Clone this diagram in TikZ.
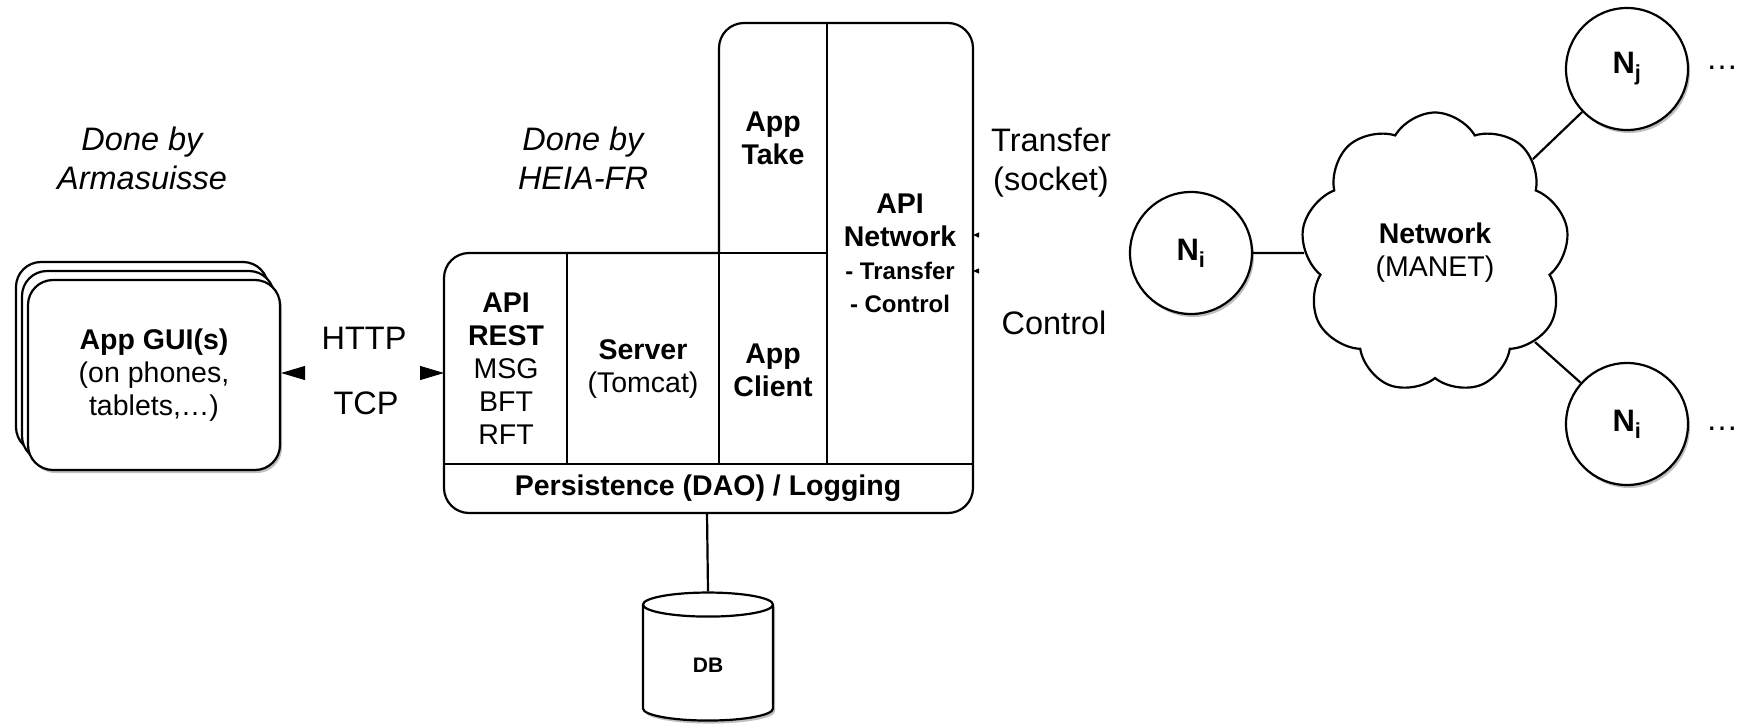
\documentclass[tikz,border=0pt]{standalone}
\usepackage{fontspec}
\setmainfont{Liberation Sans}
\usetikzlibrary{arrows.meta, shapes.geometric, shapes.symbols, shadows}

\newcommand\bigtxt{\fontsize{32.5}{39}\selectfont}
\newcommand\boxtxt{\fontsize{28.5}{33}\selectfont}
\newcommand\smalltxt{\fontsize{24}{27}\selectfont}

\tikzset{
  ln/.style={line width=2.2pt},
  softshadow/.style={drop shadow={shadow xshift=2pt, shadow yshift=-3pt, opacity=0.25, fill=black}},
  guibox/.style={ln, draw, fill=white, rounded corners=25pt, minimum width=252pt, minimum height=190pt, align=center, softshadow},
  nodecirc/.style={ln, draw, fill=white, circle, minimum size=122pt, inner sep=0pt, softshadow, font=\fontsize{31}{36}\selectfont\bfseries},
  lbl/.style={align=center, font=\bigtxt},
  boxlbl/.style={align=center, font=\boxtxt},
  ghostline/.style={draw=white, line width=1pt},
  bigtip/.style={{Triangle[length=24pt, width=14pt, color=black, fill=black]}-{Triangle[length=24pt, width=14pt, color=black, fill=black]}},
  smalltip/.style={-{Triangle[length=6pt, width=5pt, color=black, fill=black]}}
}

\begin{document}
\begin{tikzpicture}[x=1pt, y=-1pt]
        \useasboundingbox (0,0) rectangle (1740,725);

        % who does what
        \node[lbl, font=\bigtxt\itshape] (armalbl) at (142,158) {Done by\\Armasuisse};
        \node[lbl, font=\bigtxt\itshape] (heialbl) at (583,158) {Done by\\HEIA-FR};

        % stacked GUI boxes
        \node[guibox] (gui3) at (142,357) {};
        \node[guibox] (gui2) at (148,366) {};
        \node[guibox, font=\boxtxt] (gui) at (154,375) {\textbf{App GUI(s)}\\(on phones,\\tablets,\ldots)};

        % server block
        \draw[ln, rounded corners=25pt] (719,253) -- (719,23) -- (973,23) -- (973,513) -- (444,513) -- (444,253) -- (719,253);
        \draw[ln] (567,253) -- (567,464);
        \draw[ln] (719,253) -- (719,464);
        \draw[ln] (827,23) -- (827,464);
        \draw[ln] (719,253) -- (827,253);
        \draw[ln] (444,464) -- (973,464);

        \node[boxlbl] (restlbl) at (506,369) {\textbf{API}\\\textbf{REST}\\MSG\\BFT\\RFT};
        \node[boxlbl] (serverlbl) at (643,369) {\textbf{Server}\\(Tomcat)};
        \node[boxlbl, font=\boxtxt\bfseries] (clientlbl) at (773,370) {App\\Client};
        \node[boxlbl, font=\boxtxt\bfseries] (takelbl) at (773,138) {App\\Take};
        \node[boxlbl, font=\boxtxt\bfseries] (apinetlbl) at (900,253) {API\\Network\\{\smalltxt - Transfer}\\{\smalltxt - Control}};
        \node[boxlbl, font=\boxtxt\bfseries] (persistlbl) at (708,488) {Persistence (DAO) / Logging};

        \coordinate (restin) at (444,373);
        \coordinate (dbout) at (707,513);
        \coordinate (nettransfer) at (973,235);
        \coordinate (netcontrol) at (973,271);

        % database
        \node[cylinder, shape border rotate=90, aspect=0.65, draw, ln, fill=white, softshadow, minimum width=130pt, minimum height=128pt, font=\fontsize{21}{25}\selectfont\bfseries] (db) at (708,665) {DB};
        \draw[ln] (dbout) -- (db.top);

        % GUI to REST
        \draw[ghostline, bigtip] (gui.east |- restin) -- (restin);
        \node[lbl] (httplbl) at (364,338) {HTTP};
        \node[lbl] (tcplbl) at (366,403) {TCP};

        % network side
        \node[nodecirc] (ni) at (1191,253) {N\textsubscript{i}};
        \node[nodecirc] (nj) at (1627,69) {N\textsubscript{j}};
        \node[nodecirc] (nk) at (1627,424) {N\textsubscript{i}};
        \node[cloud, draw, ln, fill=white, cloud puffs=9, cloud puff arc=120, aspect=0.95, minimum width=268pt, minimum height=281pt, align=center, font=\boxtxt] (net) at (1435,253) {\textbf{Network}\\(MANET)};

        \draw[ln] (ni) -- (net);
        \draw[ln] (net) -- (nj);
        \draw[ln] (net) -- (nk);

        \node[font=\bigtxt, anchor=base] (morej) at (1722,70) {\ldots};
        \node[font=\bigtxt, anchor=base] (morek) at (1722,430) {\ldots};

        \draw[ghostline, smalltip] (ni.164) -- (nettransfer);
        \draw[ghostline, smalltip] (ni.196) -- (netcontrol);
        \node[lbl] (transferlbl) at (1051,163) {Transfer\\(socket)};
        \node[lbl] (controllbl) at (1054,323) {Control};
\end{tikzpicture}
\end{document}
